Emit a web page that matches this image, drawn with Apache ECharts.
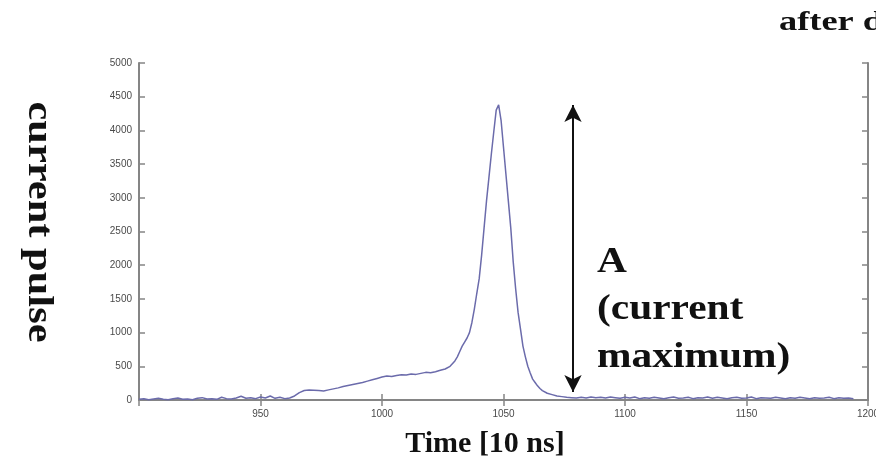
<!DOCTYPE html>
<html>
<head>
<meta charset="utf-8">
<script src="https://cdn.jsdelivr.net/npm/echarts@6/dist/echarts.min.js"></script>
<style>html,body{margin:0;padding:0;background:#fff}#c{width:876px;height:466px}</style>
</head>
<body>
<div id="c"></div>
<script>
// Time [10 ns]
var times = [900,902,904,906,908,910,912,914,916,918,920,922,924,926,928,930,932,934,936,938,940,942,944,946,948,950,952,954,956,958,960,962,964,966,968,970,972,974,976,978,980,982,984,986,988,990,992,994,996,998,1000,1002,1004,1006,1008,1010,1012,1014,1016,1018,1020,1022,1024,1026,1028,1030,1031,1032,1033,1034,1035,1036,1037,1038,1039,1040,1041,1042,1043,1044,1045,1046,1047,1048,1049,1050,1051,1052,1053,1054,1055,1056,1057,1058,1059,1060,1061,1062,1063,1064,1065,1066,1068,1070,1072,1074,1076,1078,1080,1082,1084,1086,1088,1090,1092,1094,1096,1098,1100,1102,1104,1106,1108,1110,1112,1114,1116,1118,1120,1122,1124,1126,1128,1130,1132,1134,1136,1138,1140,1142,1144,1146,1148,1150,1152,1154,1156,1158,1160,1162,1164,1166,1168,1170,1172,1174,1176,1178,1180,1182,1184,1186,1188,1190,1192,1194,1196,1198,1200];
// current pulse values
var values = [10,20,5,15,25,10,5,20,30,10,15,5,25,35,15,20,10,40,20,15,30,55,25,35,20,45,30,60,25,40,20,30,60,110,140,150,145,140,135,150,165,180,200,215,230,245,260,280,300,320,340,355,350,365,375,370,385,380,395,410,405,420,440,460,500,580,640,720,800,860,920,1000,1150,1350,1580,1800,2150,2550,2950,3300,3650,3980,4300,4380,4150,3750,3350,2950,2550,2050,1650,1300,1050,800,640,500,400,310,260,210,170,140,100,80,60,50,40,35,30,40,30,45,35,40,30,45,35,25,40,30,45,20,35,25,40,30,20,35,45,25,30,40,20,35,30,45,25,40,30,20,35,40,25,30,45,20,35,30,25,40,30,20,35,25,40,30,20,35,25,30,40,20,35,25,30,20];
var xTicks = [950,1000,1050,1100,1150,1200];
var peakValue = 4377;

var data = times.map(function(t,i){return [t, values[i]];});
var chart = echarts.init(document.getElementById('c'));
var frame = {lineStyle:{color:'#858585', width:2}};
var tick = {inside:true, length:6, lineStyle:{color:'#858585', width:1.5}};
var serif = '"Liberation Serif","Times New Roman",serif';
function plain(v){return String(v);}
chart.setOption({
  animation:false,
  grid:{left:139, right:8, top:63, bottom:66, containLabel:false, outerBoundsMode:'none'},
  xAxis:[{
    type:'value', min:900, max:1200, interval:50, position:'bottom',
    axisLine:frame, splitLine:{show:false}, axisTick:tick,
    axisLabel:{showMinLabel:false, color:'#4a4a4a', fontSize:10, fontFamily:'Arial', margin:9, formatter:plain}
  },{
    type:'value', min:900, max:1200, interval:50, position:'top',
    axisLine:frame, splitLine:{show:false}, axisTick:tick,
    axisLabel:{show:false}
  }],
  yAxis:[{
    type:'value', min:0, max:5000, interval:500, position:'left',
    axisLine:{show:true, lineStyle:{color:'#858585', width:2}}, splitLine:{show:false},
    axisTick:tick,
    axisLabel:{color:'#4a4a4a', fontSize:10, fontFamily:'Arial', margin:7, formatter:plain}
  },{
    type:'value', min:0, max:5000, interval:500, position:'right',
    axisLine:{show:true, lineStyle:{color:'#858585', width:2}}, splitLine:{show:false},
    axisTick:tick,
    axisLabel:{show:false}
  }],
  series:[{
    type:'line', data:data, showSymbol:false, symbol:'none',
    lineStyle:{color:'#6b6bab', width:1.5},
    markLine:{
      silent:true, symbol:['arrow','arrow'], symbolSize:[13,17],
      label:{show:false},
      lineStyle:{color:'#111', width:2, type:'solid'},
      data:[[{coord:[1078.6, peakValue]},{coord:[1078.6, 120]}]]
    }
  }],
  graphic:[
    {type:'text', x:38, y:222, rotation:-Math.PI/2, scaleX:1.18,
      style:{text:'current pulse', font:'bold 36px '+serif, fill:'#111', align:'center', verticalAlign:'middle'}},
    {type:'text', x:485, y:444,
      style:{text:'Time [10 ns]', font:'bold 30px '+serif, fill:'#111', align:'center', verticalAlign:'middle'}},
    {type:'text', x:779, y:23, scaleX:1.3,
      style:{text:'after d', font:'bold 28px '+serif, fill:'#111', align:'left', verticalAlign:'middle'}},
    {type:'text', x:597, y:263, scaleX:1.15,
      style:{text:'A', font:'bold 36px '+serif, fill:'#111', align:'left', verticalAlign:'middle'}},
    {type:'text', x:597, y:310, scaleX:1.15,
      style:{text:'(current', font:'bold 36px '+serif, fill:'#111', align:'left', verticalAlign:'middle'}},
    {type:'text', x:597, y:358, scaleX:1.15,
      style:{text:'maximum)', font:'bold 36px '+serif, fill:'#111', align:'left', verticalAlign:'middle'}}
  ]
});
</script>
</body>
</html>
